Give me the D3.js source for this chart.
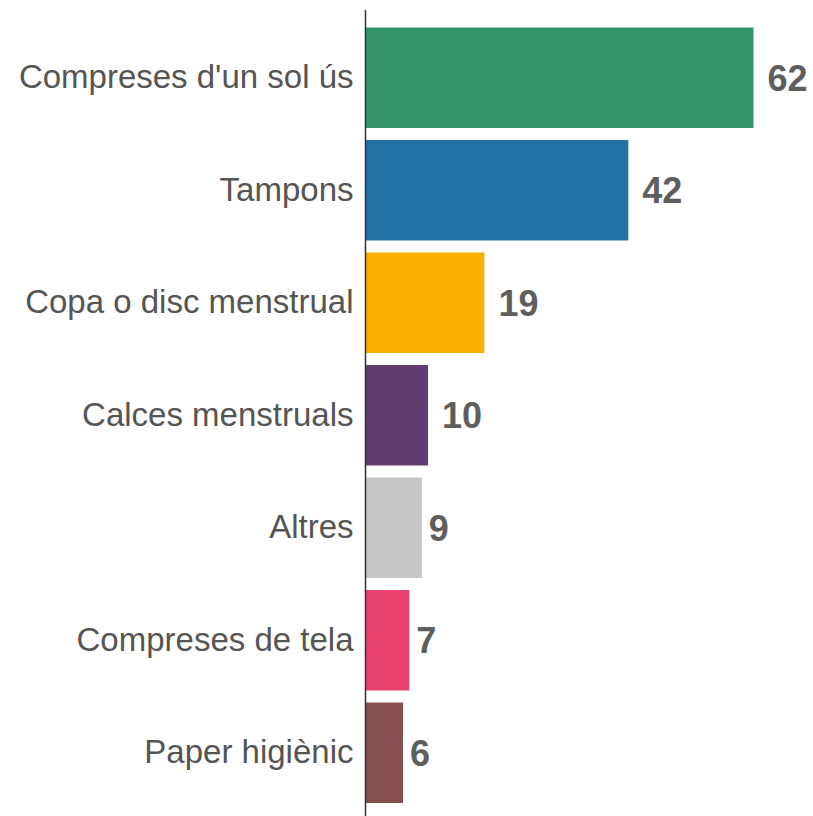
<!DOCTYPE html>
<html>
<head>
<meta charset="utf-8">
<script src="https://cdn.jsdelivr.net/npm/d3@7"></script>
<style>
  body { margin: 0; background: #fff; }
  svg text { font-family: "Liberation Sans", Arial, sans-serif; }
</style>
</head>
<body>
<svg id="chart"></svg>
<script>
const categories = ["Compreses d'un sol ús", "Tampons", "Copa o disc menstrual", "Calces menstruals", "Altres", "Compreses de tela", "Paper higiènic"];
const values = [62, 42, 19, 10, 9, 7, 6];
const colors = ["#34956c", "#2273a5", "#f9ae00", "#623d71", "#c6c6c6", "#e8416f", "#85504f"];

const width = 813, height = 816;
const axisX = 365.5;

const svg = d3.select('#chart')
    .attr('width', width)
    .attr('height', height);

const xScale = d3.scaleLinear()
    .domain([0, 62])
    .range([axisX, 753.5]);

const yScale = d3.scaleBand()
    .domain(categories)
    .range([21.5, 809])
    .paddingInner(0.107)
    .paddingOuter(0.0535);

const data = categories.map((c, i) => ({cat: c, value: values[i], color: colors[i]}));

// bars
svg.append('g').selectAll('rect')
  .data(data)
  .join('rect')
    .attr('x', xScale(0))
    .attr('y', d => yScale(d.cat))
    .attr('width', d => xScale(d.value) - xScale(0))
    .attr('height', yScale.bandwidth())
    .attr('fill', d => d.color);

// value labels (gap grows with label length)
svg.append('g').selectAll('text')
  .data(data)
  .join('text')
    .attr('x', d => xScale(d.value) + 7 * String(d.value).length)
    .attr('y', d => yScale(d.cat) + yScale.bandwidth() / 2)
    .attr('dy', '0.36em')
    .attr('font-size', 36)
    .attr('font-weight', 'bold')
    .attr('fill', '#5e5e5e')
    .text(d => d.value);

// category labels via axis
const yAxis = d3.axisLeft(yScale)
    .tickSize(0)
    .tickPadding(12);

const yAxisG = svg.append('g')
    .attr('transform', `translate(${axisX},0)`)
    .call(yAxis);
yAxisG.select('.domain').remove();
yAxisG.selectAll('text')
    .attr('font-size', 33)
    .attr('font-family', '"Liberation Sans", Arial, sans-serif')
    .attr('fill', '#555555');

// vertical axis line
svg.append('line')
    .attr('x1', axisX).attr('x2', axisX)
    .attr('y1', 10).attr('y2', height)
    .attr('stroke', '#333')
    .attr('stroke-width', 1.5);
</script>
</body>
</html>
